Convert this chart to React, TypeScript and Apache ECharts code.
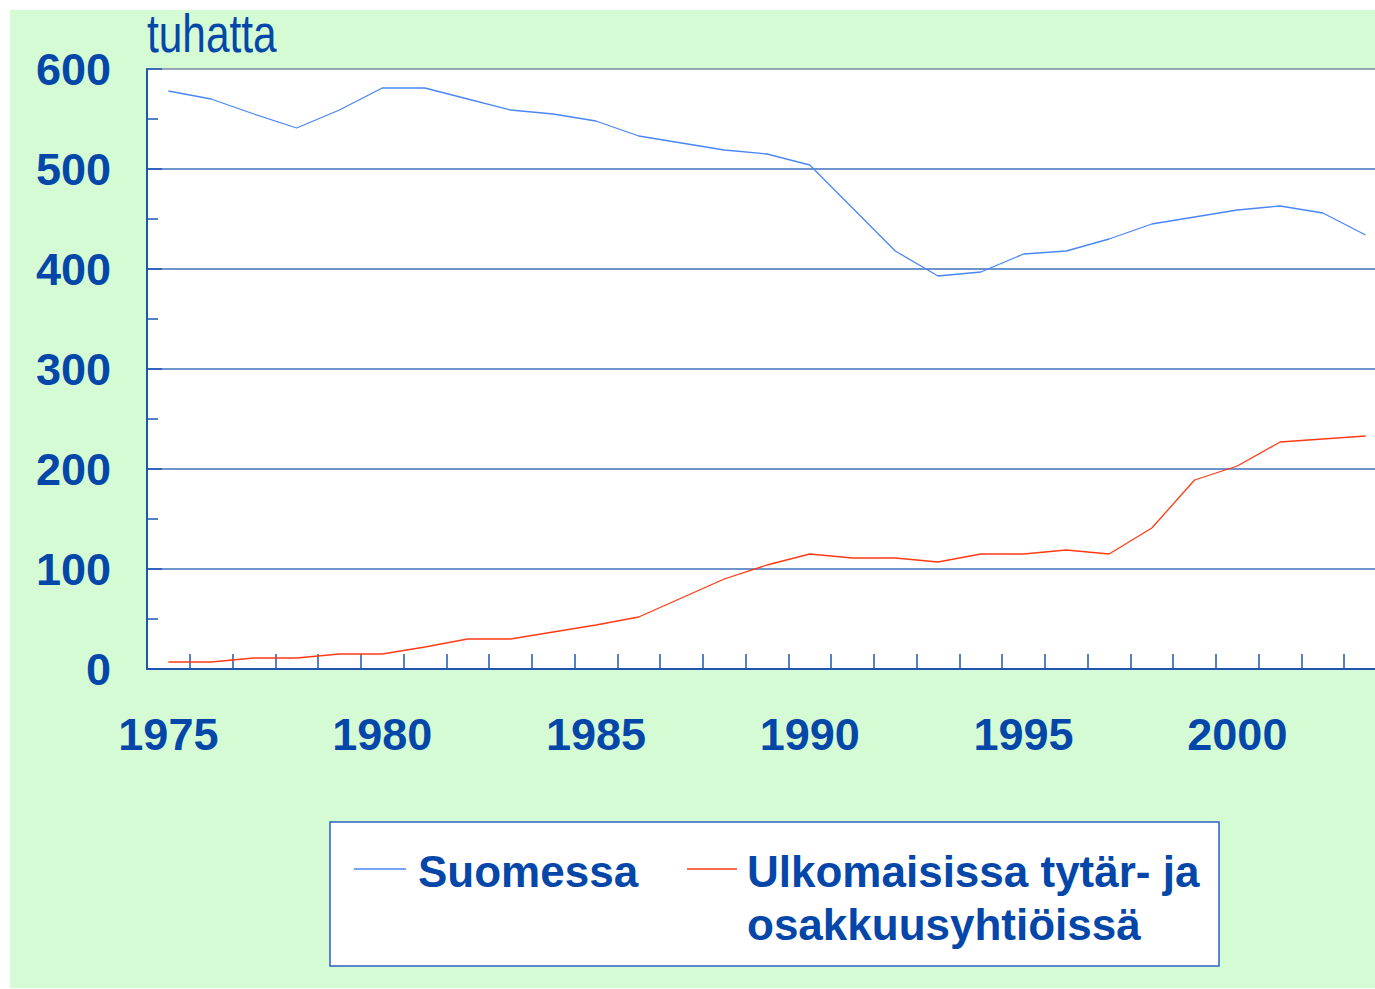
import React, { useEffect, useRef } from "react";
import * as echarts from "echarts";

const years = [
  "1975", "1976", "1977", "1978", "1979", "1980", "1981", "1982", "1983", "1984",
  "1985", "1986", "1987", "1988", "1989", "1990", "1991", "1992", "1993", "1994",
  "1995", "1996", "1997", "1998", "1999", "2000", "2001", "2002", "2003",
];

const suomessa = [
  578, 570, 555, 541, 559, 581, 581, 570, 559, 555,
  548, 533, 526, 519, 515, 504, 461, 418, 393, 397,
  415, 418, 430, 445, 452, 459, 463, 456, 434,
];

const ulkomailla = [
  7, 7, 11, 11, 15, 15, 22, 30, 30, 37,
  44, 52, 71, 90, 104, 115, 111, 111, 107, 115,
  115, 119, 115, 141, 189, 203, 227, 230, 233,
];

const seriesNames = ["Suomessa", "Ulkomaisissa tytär- ja\nosakkuusyhtiöissä"];
const unitLabel = "tuhatta";

const TEXT_BLUE = "#0447a9";
const LINE_BLUE = "#4a86f5";
const LINE_RED = "#ff3a14";
const FONT = "Liberation Sans, Arial, sans-serif";

export default function App() {
  const ref = useRef<HTMLDivElement>(null);

  useEffect(() => {
    if (!ref.current) return;
    const chart = echarts.init(ref.current, null, { renderer: "svg" });
    chart.setOption({
      animation: false,
      backgroundColor: "#ffffff",
      grid: {
        left: 147, top: 69, width: 1240, height: 600,
        outerBoundsMode: "none", containLabel: false,
        show: true, backgroundColor: "#ffffff", borderWidth: 0,
      },
      graphic: [
        { type: "rect", z: -10, silent: true, shape: { x: 10, y: 10, width: 1380, height: 978 }, style: { fill: "#d5fbd4" } },
        {
          type: "text", x: 147, y: 34, scaleX: 0.8,
          style: { text: unitLabel, font: `53px ${FONT}`, fill: TEXT_BLUE, verticalAlign: "middle", align: "left" },
        },
        {
          type: "rect", shape: { x: 330, y: 822, width: 889, height: 144 },
          style: { fill: "#ffffff", stroke: "#2f5fc0", lineWidth: 1.5 },
        },
        { type: "line", shape: { x1: 354, y1: 869, x2: 406, y2: 869 }, style: { stroke: LINE_BLUE, lineWidth: 1.5 } },
        {
          type: "text", x: 418, y: 871,
          style: { text: seriesNames[0], font: `bold 44px ${FONT}`, fill: TEXT_BLUE, verticalAlign: "middle", align: "left" },
        },
        { type: "line", shape: { x1: 687, y1: 869, x2: 737, y2: 869 }, style: { stroke: LINE_RED, lineWidth: 1.5 } },
        {
          type: "text", x: 747, y: 845,
          style: { text: seriesNames[1], font: `bold 44px ${FONT}`, lineHeight: 53, fill: TEXT_BLUE, verticalAlign: "top", align: "left" },
        },
      ],
      xAxis: {
        type: "category",
        data: years,
        boundaryGap: true,
        axisLine: { lineStyle: { color: "#1f55b0", width: 2 } },
        axisTick: { show: true, inside: true, length: 15, interval: 0, lineStyle: { color: "#1f55b0", width: 1.5 } },
        axisLabel: {
          interval: 4, margin: 43, color: TEXT_BLUE,
          fontFamily: FONT, fontWeight: "bold", fontSize: 45,
        },
        splitLine: { show: false },
      },
      yAxis: {
        type: "value",
        min: 0, max: 600, interval: 100,
        axisLine: { show: true, lineStyle: { color: "#1f55b0", width: 2 } },
        axisTick: { show: true, inside: true, length: 15, lineStyle: { color: "#1f55b0", width: 1.5 } },
        minorTick: { show: true, splitNumber: 2, length: 11, lineStyle: { color: "#1f55b0", width: 1.5 } },
        axisLabel: {
          margin: 36, color: TEXT_BLUE,
          fontFamily: FONT, fontWeight: "bold", fontSize: 45,
        },
        splitLine: {
          show: true,
          lineStyle: {
            color: ["#3f70bb", "#3f70bb", "#3f70bb", "#3f70bb", "#3f70bb", "#3f70bb", "#7d8aa6"],
            width: 1.5,
          },
        },
      },
      series: [
        {
          name: seriesNames[0], type: "line", data: suomessa,
          symbol: "none", lineStyle: { color: LINE_BLUE, width: 1.3 }, itemStyle: { color: LINE_BLUE },
        },
        {
          name: seriesNames[1], type: "line", data: ulkomailla,
          symbol: "none", lineStyle: { color: LINE_RED, width: 1.3 }, itemStyle: { color: LINE_RED },
        },
      ],
    });
    return () => chart.dispose();
  }, []);

  return (
    <div
      ref={ref}
      style={{ position: "fixed", left: 0, top: 0, width: 1375, height: 989 }}
    />
  );
}
